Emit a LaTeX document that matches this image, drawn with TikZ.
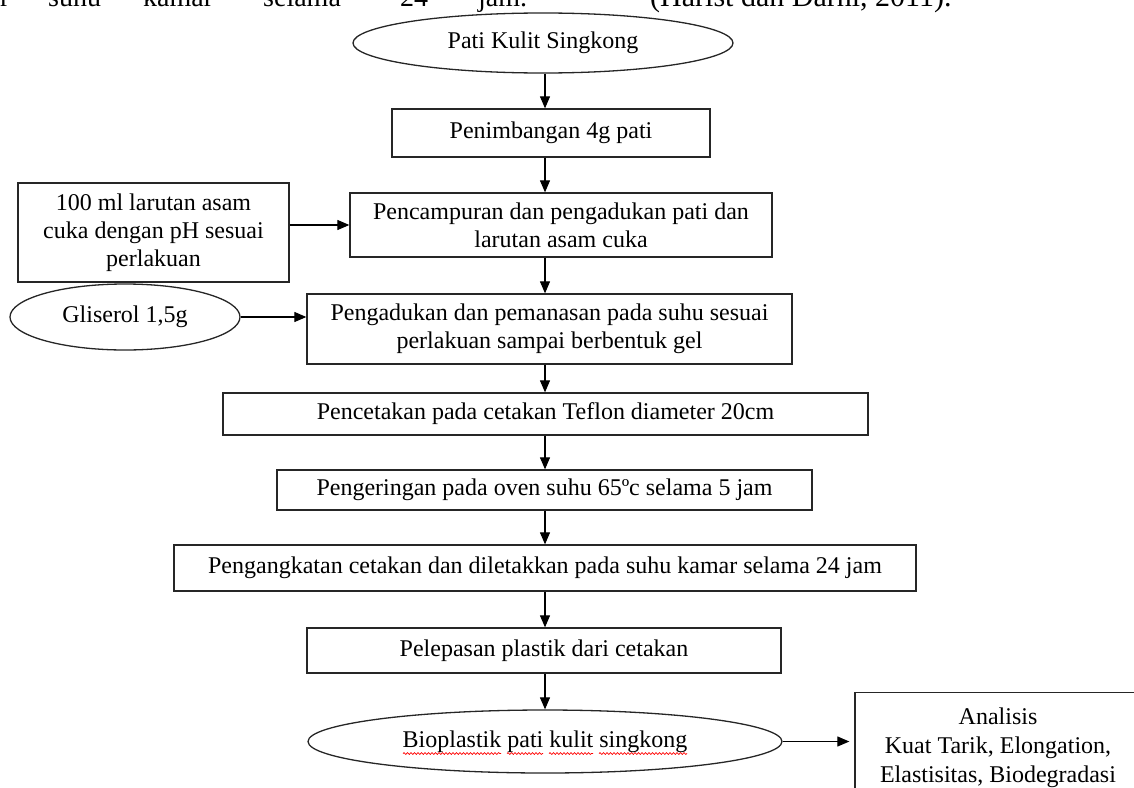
\documentclass[tikz,border=0pt]{standalone}
\usepackage{fontspec}
\setmainfont{Liberation Serif}
\usetikzlibrary{arrows.meta,shapes.geometric,decorations.pathmorphing,calc}
\begin{document}
\begin{tikzpicture}[x=1pt,y=-1pt,
  txt/.style={font=\fontsize{24}{28}\selectfont},
  box/.style={txt,draw=black!85,line width=1.3pt,rectangle,inner sep=0pt,align=center},
  oval/.style={txt,draw=black!85,line width=1.3pt,ellipse,inner sep=0pt,align=center},
  arr/.style={line width=1.1pt,-{Triangle[length=12pt,width=10pt]}},
  body/.style={font=\fontsize{28}{32}\selectfont,anchor=base west,inner sep=0pt},
  spell/.style={red,line width=0.7pt,decorate,decoration={snake,amplitude=0.9pt,segment length=3.5pt}}]
\useasboundingbox (0,0) rectangle (1134,787);
\clip (0,0) rectangle (1134,787);

% clipped body text line at the top
\node[body] (w1) at (0,6) {r};
\node[body] (w2) at (48,6) {suhu};
\node[body] (w3) at (143,6) {kamar};
\node[body] (w4) at (263,6) {selama};
\node[body] (w5) at (400,6) {24};
\node[body] (w6) at (478,6) {jam.};
\node[body,font=\fontsize{30}{34}\selectfont] (w7) at (650,6) {(Harist dan Darni, 2011).};

\coordinate (sp) at (545,0);

\node[oval,minimum width=380,minimum height=60] (e1) at (543,43) {Pati Kulit Singkong};
\node[box,minimum width=318,minimum height=48] (b2) at (551,133) {Penimbangan 4g pati};
\node[box,minimum width=422,minimum height=64] (b3) at (561,225) {Pencampuran dan pengadukan pati dan\\larutan asam cuka};
\node[box,minimum width=271,minimum height=99] (lb) at (153.5,232.5) {100 ml larutan asam\\cuka dengan pH sesuai\\perlakuan};
\node[box,minimum width=485,minimum height=70] (b4) at (549.5,329) {Pengadukan dan pemanasan pada suhu sesuai\\perlakuan sampai berbentuk gel};
\node[oval,minimum width=230,minimum height=66] (gl) at (125,317) {Gliserol 1,5g};
\node[box,minimum width=645,minimum height=42] (b5) at (545.5,414) {Pencetakan pada cetakan Teflon diameter 20cm};
\node[box,minimum width=535,minimum height=40] (b6) at (544.5,490) {Pengeringan pada oven suhu 65ºc selama 5 jam};
\node[box,minimum width=742,minimum height=46] (b7) at (545,568) {Pengangkatan cetakan dan diletakkan pada suhu kamar selama 24 jam};
\node[box,minimum width=474,minimum height=45] (b8) at (544,650.5) {Pelepasan plastik dari cetakan};
\node[oval,minimum width=474,minimum height=63] (e3) at (545,741.5) {Bioplastik pati kulit singkong};
\node[box,anchor=north,minimum width=286,inner xsep=0pt,inner ysep=15pt,font=\fontsize{24}{29}\selectfont] (an) at (998,692) {Analisis\\Kuat Tarik, Elongation,\\Elastisitas, Biodegradasi};

% spell-check underline
\draw[spell] ($(e3.center)+(-142,12)$) -- ++(98,0);
\draw[spell] ($(e3.center)+(-38,12)$) -- ++(36,0);
\draw[spell] ($(e3.center)+(4,12)$) -- ++(44,0);
\draw[spell] ($(e3.center)+(54,12)$) -- ++(88,0);

% connectors
\draw[arr] (e1.south -| sp) -- (b2.north -| sp);
\draw[arr] (b2.south -| sp) -- (b3.north -| sp);
\draw[arr] (b3.west -| lb.east) -- (b3.west);
\draw[arr] (b3.south -| sp) -- (b4.north -| sp);
\draw[arr] (gl.east) -- (gl.east -| b4.west);
\draw[arr] (b4.south -| sp) -- (b5.north -| sp);
\draw[arr] (b5.south -| sp) -- (b6.north -| sp);
\draw[arr] (b6.south -| sp) -- (b7.north -| sp);
\draw[arr] (b7.south -| sp) -- (b8.north -| sp);
\draw[arr] (b8.south -| sp) -- (e3.north -| sp);
\draw[arr,shorten >=5pt] (e3.east) -- (e3.east -| an.west);
\end{tikzpicture}
\end{document}
